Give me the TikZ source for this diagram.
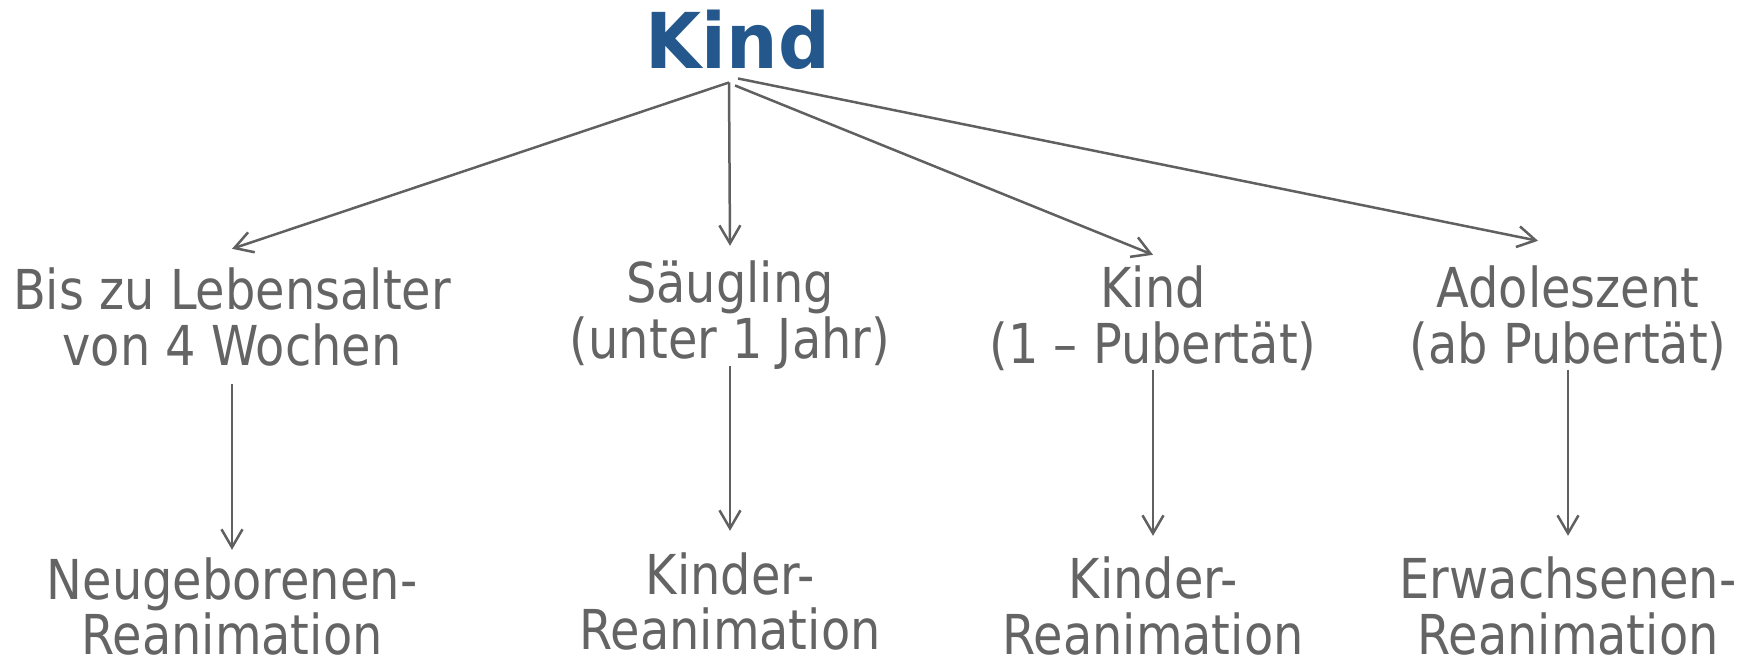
\documentclass[tikz,border=0pt]{standalone}
\usepackage{fontspec}
\usetikzlibrary{arrows.meta}
\newfontfamily\lblfont{DejaVu Sans}[FakeStretch=0.87]
\newfontfamily\ttlfont{DejaVu Sans}[FakeStretch=0.94]
\definecolor{txtgray}{RGB}{100,100,100}
\definecolor{linegray}{RGB}{96,96,96}
\definecolor{ttlblue}{RGB}{36,88,140}
\begin{document}
\begin{tikzpicture}[x=0.5pt,y=-0.5pt,
  title/.style={inner sep=0pt, anchor=base, text=ttlblue,
    font=\ttlfont\bfseries\fontsize{38.5pt}{40pt}\selectfont},
  lbl/.style={inner sep=0pt, anchor=base, align=center, text=txtgray,
    font=\lblfont\fontsize{27.5pt}{28pt}\selectfont},
  arr/.style={draw=linegray, line width=1.25pt,
    -{Straight Barb[length=9pt,width=10.5pt,line width=1.25pt]}}]
\useasboundingbox (0,0) rectangle (1746,667);

% root
\node[title] (root) at (738,69) {Kind};

% age groups (anchored at the baseline of the last line)
\node[lbl] (g1) at (232,366) {Bis zu Lebensalter\\von 4 Wochen};
\node[lbl] (g2) at (730,359) {Säugling\\(unter 1 Jahr)};
\node[lbl] (g3) at (1153,364) {Kind\\(1 – Pubertät)};
\node[lbl] (g4) at (1568,364) {Adoleszent\\(ab Pubertät)};

% resuscitation types
\node[lbl] (r1) at (232,655) {Neugeborenen-\\Reanimation};
\node[lbl] (r2) at (730,650) {Kinder-\\Reanimation};
\node[lbl] (r3) at (1153,654) {Kinder-\\Reanimation};
\node[lbl] (r4) at (1568,654) {Erwachsenen-\\Reanimation};

% root to age groups
\draw[arr] ([shift={(-9,12)}]root.south) -- ([shift={(0,-19)}]g1.north);
\draw[arr] ([shift={(-9,12)}]root.south) -- ([shift={(0,-15)}]g2.north);
\draw[arr] ([shift={(-3,15)}]root.south) -- ([shift={(0,-11)}]g3.north);
\draw[arr] ([shift={(0,8)}]root.south) -- ([shift={(-30,-25)}]g4.north);

% age groups to resuscitation types
\draw[arr] ([shift={(0,17)}]g1.south) -- ([shift={(0,-7)}]r1.north);
\draw[arr] ([shift={(0,-4)}]g2.south) -- ([shift={(0,-21)}]r2.north);
\draw[arr] ([shift={(0,-2)}]g3.south) -- ([shift={(0,-20)}]r3.north);
\draw[arr] ([shift={(0,-2)}]g4.south) -- ([shift={(0,-20)}]r4.north);
\end{tikzpicture}
\end{document}
